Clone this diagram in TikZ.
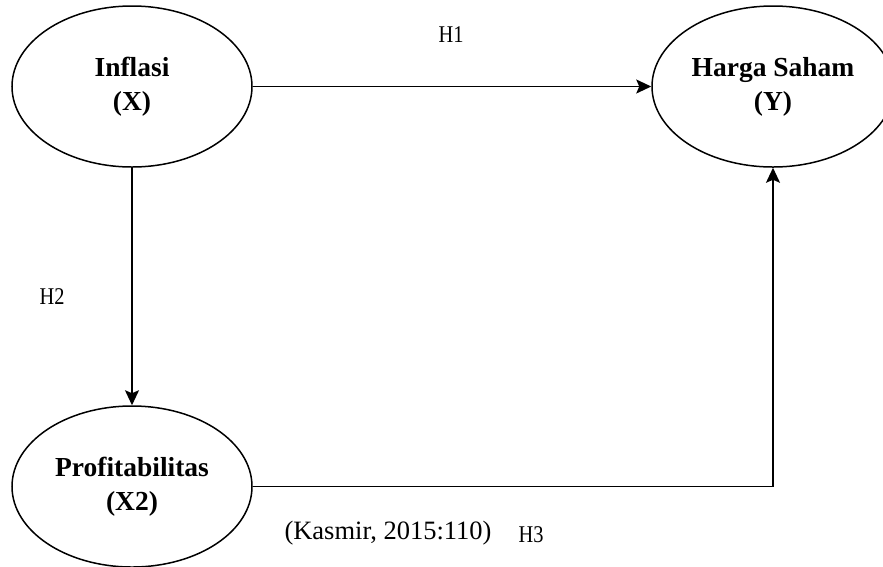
\documentclass[tikz,border=0pt]{standalone}
\usepackage{fontspec}
\setmainfont{Liberation Serif}
\usetikzlibrary{arrows.meta,shapes.geometric}
\begin{document}
\begin{tikzpicture}[x=1pt,y=-1pt,
  varell/.style={draw, line width=1.5pt, ellipse, minimum width=240pt, minimum height=161pt, inner sep=0pt,
    align=center, font=\fontsize{27.5}{34}\selectfont\bfseries},
  conn/.style={line width=1.7pt, -{Stealth[length=15pt,width=14pt,inset=3pt]}},
  hlab/.style={font=\fontsize{24}{28}\selectfont, xscale=0.85},
  src/.style={font=\fontsize{26.5}{30}\selectfont}]
\useasboundingbox (0,0) rectangle (883,566);
\node[varell] (x1) at (132,86.5) {Inflasi\\(X)};
\node[varell, minimum width=242pt] (y) at (773,86.5) {Harga Saham\\(Y)};
\node[varell] (x2) at (132,486.5) {Profitabilitas\\(X2)};
\draw[conn] (x1.east) -- (y.west);
\draw[conn] (x1.south) -- (x2.north);
\draw[conn] (x2.east) -| (y.south);
\node[hlab] (h1) at (451,35) {H1};
\node[hlab] (h2) at (52,297) {H2};
\node[hlab] (h3) at (531,535) {H3};
\node[src] (srcnode) at (388,533) {(Kasmir, 2015:110)};
\end{tikzpicture}
\end{document}
